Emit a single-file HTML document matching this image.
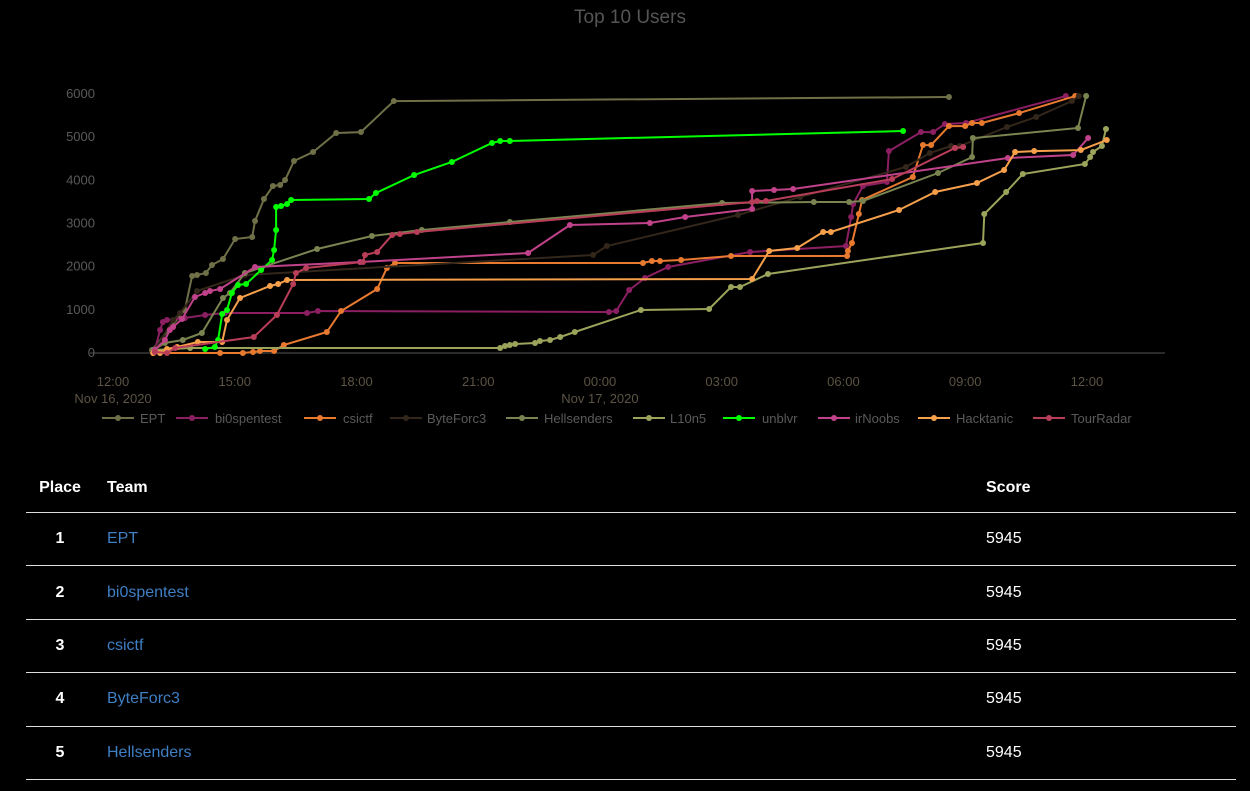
<!DOCTYPE html>
<html><head><meta charset="utf-8">
<style>
html,body{margin:0;padding:0;background:#000;width:1250px;height:791px;overflow:hidden;font-family:"Liberation Sans",sans-serif;}
#chart{position:absolute;left:0;top:0;}
table{position:absolute;left:26px;top:463px;width:1210px;border-collapse:collapse;color:#fff;font-size:16px;}
th{font-weight:bold;text-align:left;height:49px;padding:0;border-bottom:1px solid #ddd;}
td{height:52.4px;padding:0;border-bottom:1px solid #ddd;}
td.pl{font-weight:bold;text-align:center;width:68px;}
th.pl{text-align:center;width:68px;}
a{color:#3f7fc4;text-decoration:none;}
</style></head><body>
<svg id="chart" width="1250" height="440" xmlns="http://www.w3.org/2000/svg">
<text x="630" y="23" text-anchor="middle" fill="#555" font-size="19" font-family="Liberation Sans, sans-serif">Top 10 Users</text>
<g id="axes"></g><g id="series"></g><g id="legend"></g>
</svg>
<table>
<tr><th class="pl">Place</th><th style="padding-left:13px">Team</th><th style="width:250px">Score</th></tr>
<tr><td class="pl">1</td><td style="padding-left:13px"><a href="#">EPT</a></td><td>5945</td></tr>
<tr><td class="pl">2</td><td style="padding-left:13px"><a href="#">bi0spentest</a></td><td>5945</td></tr>
<tr><td class="pl">3</td><td style="padding-left:13px"><a href="#">csictf</a></td><td>5945</td></tr>
<tr><td class="pl">4</td><td style="padding-left:13px"><a href="#">ByteForc3</a></td><td>5945</td></tr>
<tr><td class="pl">5</td><td style="padding-left:13px"><a href="#">Hellsenders</a></td><td>5945</td></tr>
</table>
<script>
// hours since Nov 16 12:00, scores
const teams=["EPT","bi0spentest","csictf","ByteForc3","Hellsenders","L10n5","unblvr","irNoobs","Hacktanic","TourRadar"];
const colors=["#6f7048","#8b1f62","#e87a30","#33261a","#7a8450","#9ca35a","#00ff00","#c0428a","#f7a04b","#b83d58"];
const yTicks=[0,1000,2000,3000,4000,5000,6000];
const xTickLabels=["12:00","15:00","18:00","21:00","00:00","03:00","06:00","09:00","12:00"];
const eptH=[0.96,1.77,1.95,2.07,2.29,2.44,2.71,3.01,3.43,3.50,3.72,3.94,4.12,4.24,4.46,4.93,5.50,6.11,6.92,20.6];
const eptS=[70,996,1783,1806,1853,2038,2177,2640,2687,3057,3567,3868,3891,4007,4447,4655,5095,5118,5836,5929];
const bioH=[1.03,1.16,1.23,1.33,1.77,2.27,2.76,4.78,5.05,12.22,12.40,12.72,13.11,13.68,15.70,18.06,18.19,18.24,18.48,19.07,19.12,19.91,20.21,20.50,21.02,23.48];
const bioS=[70,533,718,764,811,880,926,926,973,950,973,1459,1737,1992,2339,2478,3150,3451,3868,3960,4678,5118,5118,5304,5327,5952];
const csiH=[0.99,2.64,3.20,3.45,3.62,3.97,4.21,5.27,5.62,6.51,6.75,6.95,13.06,13.28,13.48,14.00,15.23,18.09,18.11,18.21,18.38,18.46,19.71,19.96,20.16,20.60,21.00,21.17,21.41,22.33,23.71];
const csiS=[0,0,0,23,46,46,185,486,973,1482,1969,2084,2084,2131,2131,2154,2247,2247,2362,2548,3219,3544,4076,4817,4817,5257,5257,5327,5327,5558,5952];
const byteH=[0.99,1.48,1.65,2.07,3.25,11.83,12.17,15.40,16.93,19.54,20.13,20.65,20.87,22.03,22.75,23.63,23.80];
const byteS=[23,764,926,1436,1806,2270,2478,3196,3613,4308,4632,4794,4794,5234,5466,5836,5952];
const hellH=[0.99,1.28,1.72,2.19,2.71,2.88,3.25,5.03,6.38,7.61,9.78,15.01,17.27,18.14,18.48,20.33,21.17,21.19,23.78,23.98];
const hellS=[70,232,301,463,1274,1390,1853,2409,2710,2849,3034,3474,3497,3497,3520,4169,4539,4979,5211,5952];
const l10H=[1.03,1.90,9.54,9.66,9.78,9.91,10.40,10.52,10.77,11.02,11.38,13.01,14.69,15.23,15.45,16.14,21.44,21.47,22.01,22.42,23.95,24.08,24.15,24.37,24.47];
const l10S=[70,116,116,162,185,208,232,278,301,371,486,996,1019,1529,1529,1830,2548,3219,3729,4146,4377,4539,4655,4794,5188];
const unbH=[2.27,2.51,2.59,2.69,2.81,2.93,3.08,3.28,3.65,3.92,3.97,4.02,4.02,4.14,4.29,4.39,6.31,6.48,7.42,8.35,9.34,9.54,9.78,19.47];
const unbS=[93,139,301,903,996,1390,1575,1598,1922,2154,2385,2849,3381,3405,3451,3543,3567,3706,4122,4424,4864,4910,4910,5142];
const irnH=[1.03,1.28,1.40,1.48,1.70,2.02,2.27,2.39,2.64,3.50,6.09,10.23,11.26,13.23,14.10,15.75,15.75,16.29,16.76,22.05,23.66,24.03];
const irnS=[70,301,533,602,787,1297,1390,1436,1482,1992,2108,2316,2964,3011,3150,3335,3752,3775,3798,4516,4586,4979];
const hackH=[0.99,1.16,1.33,1.58,2.09,2.69,2.81,3.13,3.87,4.07,4.29,15.75,16.17,16.86,17.50,17.69,19.37,20.26,21.29,21.96,22.23,22.70,23.85,24.49];
const hackS=[0,0,93,139,255,255,764,1274,1552,1598,1691,1714,2362,2432,2802,2802,3312,3729,3937,4238,4655,4678,4701,4933];
const tourH=[1.03,1.33,1.53,3.47,4.04,4.44,4.51,4.76,6.16,6.21,6.51,6.88,7.07,7.49,15.75,15.87,16.09,19.20,20.75,20.95];
const tourS=[23,0,116,371,880,1598,1853,1969,2108,2270,2339,2733,2756,2802,3497,3520,3520,4030,4748,4771];
const seriesH=[eptH,bioH,csiH,byteH,hellH,l10H,unbH,irnH,hackH,tourH];
const seriesS=[eptS,bioS,csiS,byteS,hellS,l10S,unbS,irnS,hackS,tourS];

const NS="http://www.w3.org/2000/svg";
const X=h=>113+h*40.58;
const Y=s=>353-s*0.04317;
function mk(tag,attrs,parent){const e=document.createElementNS(NS,tag);for(const k in attrs)e.setAttribute(k,attrs[k]);parent.appendChild(e);return e;}
const axes=document.getElementById('axes');
const base=mk('line',{x1:90,x2:1165,y1:Y(0),y2:Y(0),stroke:'#555','stroke-width':1},axes);


yTicks.forEach(v=>{const t=mk('text',{x:95,y:Y(v)+4,'text-anchor':'end',fill:'#5a5a5a','font-size':13},axes);t.textContent=v;

});
xTickLabels.forEach((l,i)=>{const t=mk('text',{x:X(i*3),y:386,'text-anchor':'middle',fill:'#5c5444','font-size':13},axes);t.textContent=l;

});
[["Nov 16, 2020",0],["Nov 17, 2020",12]].forEach(d=>{const t=mk('text',{x:X(d[1]),y:403,'text-anchor':'middle',fill:'#5c5444','font-size':13},axes);t.textContent=d[0];

});
const sg=document.getElementById('series');
teams.forEach((n,i)=>{
 const g=mk('g',{},sg);
 
 
 const pts=seriesH[i].map((h,j)=>X(h).toFixed(1)+','+Y(seriesS[i][j]).toFixed(1)).join(' ');
 mk('polyline',{points:pts,fill:'none',stroke:colors[i],'stroke-width':2},g);
 seriesH[i].forEach((h,j)=>{const c=mk('circle',{cx:X(h),cy:Y(seriesS[i][j]),r:3,fill:colors[i]},g);
 
 });
});
const lg=document.getElementById('legend');
const lx=[102,176,304,390,506,633,723,818,918,1033];
const tx=[140,215,343,427,544,670,762,855,956,1071];
teams.forEach((n,i)=>{
 const g=mk('g',{},lg);
 
 
 mk('line',{x1:lx[i],x2:lx[i]+32,y1:418,y2:418,stroke:colors[i],'stroke-width':2},g);
 mk('circle',{cx:lx[i]+16,cy:418,r:3,fill:colors[i]},g);
 const t=mk('text',{x:tx[i],y:423,fill:'#5a5a5a','font-size':13},g);t.textContent=n;
});
</script>
</body></html>
